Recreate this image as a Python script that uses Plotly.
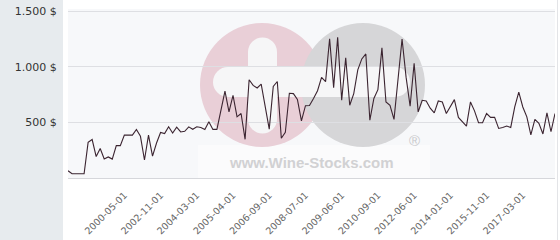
import plotly.graph_objects as go

# ---- data ----
prices = [65, 38, 38, 38, 38, 320, 346, 193, 266, 171,
          189, 170, 291, 291, 386, 386, 386, 437, 375, 162,
          386, 196, 315, 409, 399, 461, 405, 458, 414, 420,
          460, 438, 461, 455, 437, 507, 437, 437, 610, 782,
          595, 744, 550, 580, 348, 884, 833, 810, 845, 640,
          440, 824, 868, 357, 410, 762, 759, 706, 514, 650,
          652, 714, 785, 905, 866, 1252, 813, 1265, 699, 1080,
          654, 759, 973, 1071, 1116, 520, 715, 795, 1170, 684,
          654, 527, 893, 1250, 907, 646, 1032, 595, 699, 693,
          628, 586, 693, 684, 580, 639, 705, 545, 506, 467,
          684, 604, 497, 497, 580, 545, 545, 446, 455, 467,
          455, 639, 773, 639, 550, 387, 527, 491, 396, 586,
          416, 580]
point_index = list(range(len(prices)))
x_tick_index = [14, 23, 32, 41, 50, 59, 68, 77, 86, 95, 104, 113]
x_tick_labels = ["2000-05-01", "2002-11-01", "2004-03-01", "2005-04-01",
                 "2006-09-01", "2008-07-01", "2009-06-01", "2010-09-01",
                 "2012-06-01", "2014-01-01", "2015-11-01", "2017-03-01"]
y_tick_values = [500, 1000, 1500]
y_tick_labels = ["500 $", "1.000 $", "1.500 $"]

# ---- layout geometry ----
W, H = 560, 240
L, R, T, B = 68, 5, 9, 62


def px(x):
    return (x - L) / (W - L - R)


def py(y):
    return (H - B - y) / (H - T - B)


fig = go.Figure()
fig.add_trace(go.Scatter(x=point_index, y=prices, mode="lines",
                         line=dict(color="#3b2430", width=1.1),
                         hoverinfo="skip", showlegend=False))

shapes = []
# left grey panel
shapes.append(dict(type="rect", xref="paper", yref="paper",
                   x0=px(0), x1=px(63), y0=py(240), y1=py(0),
                   fillcolor="#e7ebee", line=dict(width=0), layer="below"))


def circ(cx, cy, r, color):
    return dict(type="circle", xref="paper", yref="paper",
                x0=px(cx - r), x1=px(cx + r), y0=py(cy + r), y1=py(cy - r),
                fillcolor=color, line=dict(width=0), layer="below")


def rect(x0, x1, y0, y1, color):
    return dict(type="rect", xref="paper", yref="paper",
                x0=px(x0), x1=px(x1), y0=py(y1), y1=py(y0),
                fillcolor=color, line=dict(width=0), layer="below")


# watermark
shapes.append(rect(198, 430, 145, 178, "#fbfbfc"))
shapes.append(circ(262, 85, 62, "#e9cfd7"))
shapes.append(circ(363, 85, 62, "#d6d6d8"))
shapes.append(rect(228, 395, 67, 97, "#f6f6f7"))
shapes.append(circ(228, 82, 15, "#f6f6f7"))
shapes.append(circ(395, 82, 15, "#f6f6f7"))
shapes.append(rect(248, 277, 52, 119, "#f6f6f7"))
shapes.append(circ(262.5, 52, 14.5, "#f6f6f7"))
shapes.append(circ(262.5, 119, 14.5, "#f6f6f7"))
# right border
shapes.append(dict(type="line", xref="paper", yref="paper",
                   x0=px(557.5), x1=px(557.5), y0=py(240), y1=py(0),
                   line=dict(color="#e3e4e7", width=1), layer="below"))

annotations = [
    dict(text="<b>www.Wine-Stocks.com</b>", xref="paper", yref="paper",
         x=px(311), y=py(162), showarrow=False,
         font=dict(family="Liberation Sans", size=15, color="#d1d1d3"),
         xanchor="center", yanchor="middle"),
    dict(text="®", xref="paper", yref="paper",
         x=px(414), y=py(140), showarrow=False,
         font=dict(family="Liberation Sans", size=15, color="#c9c9cc"),
         xanchor="center", yanchor="middle"),
]

fig.update_layout(
    width=W, height=H,
    margin=dict(l=L, r=R, t=T, b=B, pad=0, autoexpand=False),
    paper_bgcolor="#ffffff",
    plot_bgcolor="#f7f8fa",
    font=dict(family="DejaVu Sans", color="#333333"),
    shapes=shapes,
    annotations=annotations,
    xaxis=dict(range=[0, len(prices) - 1], tickmode="array",
               tickvals=x_tick_index, ticktext=x_tick_labels,
               tickangle=-45, tickfont=dict(size=9.5, color="#666666"),
               showgrid=False, zeroline=False, showline=True,
               linecolor="#d6d7db", linewidth=1, automargin=False,
               ticks="outside", ticklen=7, tickcolor="rgba(0,0,0,0)"),
    yaxis=dict(range=[0, 1520], tickmode="array",
               tickvals=y_tick_values, ticktext=y_tick_labels,
               tickfont=dict(size=11, color="#333333"),
               showgrid=True, gridcolor="#dedfe3", gridwidth=1,
               zeroline=False, showline=False, automargin=False,
               ticks="outside", ticklen=8, tickcolor="rgba(0,0,0,0)"),
)

fig.write_html("out.html")
